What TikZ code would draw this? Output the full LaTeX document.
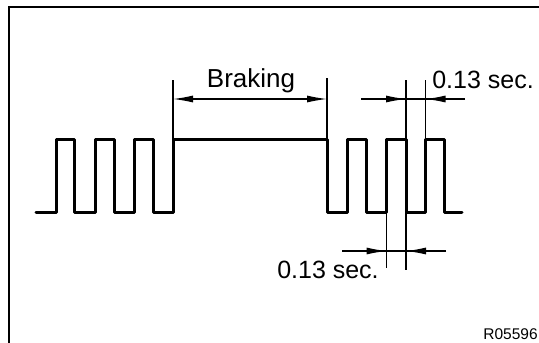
\documentclass[tikz,border=0pt]{standalone}
\usepackage{fontspec}
\setmainfont{Liberation Sans}
\usetikzlibrary{arrows.meta, positioning}

\begin{document}
\begin{tikzpicture}[
    x=1pt, y=-1pt,
    signal/.style={line width=3pt, line join=round, line cap=round},
    extline/.style={line width=1.1pt},
    dimline/.style={line width=1.1pt},
    dimtip/.style={line width=1.1pt, -{Latex[length=20pt,width=7pt]}},
    dimboth/.style={line width=1.1pt, {Latex[length=20pt,width=7pt]}-{Latex[length=20pt,width=7pt]}},
    label/.style={inner sep=0pt, font=\fontsize{25}{30}\selectfont, anchor=base},
]
\useasboundingbox (0,0) rectangle (539,343);

% frame
\draw[line width=2pt] (9,343) -- (9,7) -- (539,7);

% pulse signal
\draw[signal] (36,212) -| (56.5,139) -| (74,212) -| (95,139) -| (114,212) -| (134.5,139) -| (153.5,212)
  -| (173,139) -| (327,212) -| (347.5,139) -| (366.5,212) -| (386.5,139) -| (406,212)
  -| (425.5,139) -| (444,212) -- (462,212);

% dimension points
\coordinate (brakeL) at (173,99);
\coordinate (brakeR) at (327,99);
\coordinate (hiA) at (406,99);
\coordinate (hiB) at (425.5,99);
\coordinate (hiOutL) at (361,99);
\coordinate (hiOutR) at (465,99);
\coordinate (loA) at (386.5,251);
\coordinate (loB) at (406,251);
\coordinate (loOutL) at (342,251);
\coordinate (loOutR) at (446,251);

% extension lines
\draw[extline] (173,80) -- (173,139);
\draw[extline] (327,78) -- (327,139);
\draw[extline] (406,80) -- (406,139);
\draw[extline] (425.5,80) -- (425.5,139);
\draw[extline] (386.5,212) -- (386.5,268);
\draw[extline] (406,212) -- (406,270);

% braking
\draw[dimboth] (brakeL) -- (brakeR);
\node[label, font=\fontsize{26}{30}\selectfont] (braketext) at (251,87) {Braking};

% upper 0.13 sec.
\draw[dimline] (hiOutL) -- (hiOutR);
\draw[dimtip] (hiOutL) -- (hiA);
\draw[dimtip] (hiOutR) -- (hiB);
\node[label] (hitext) at (483,88) {0.13 sec.};

% lower 0.13 sec.
\draw[dimline] (loOutL) -- (loOutR);
\draw[dimtip] (loOutL) -- (loA);
\draw[dimtip] (loOutR) -- (loB);
\node[label] (lotext) at (328,278) {0.13 sec.};

\node[label, font=\fontsize{15.5}{18}\selectfont] (figid) at (510.5,339) {R05596};
\end{tikzpicture}
\end{document}
